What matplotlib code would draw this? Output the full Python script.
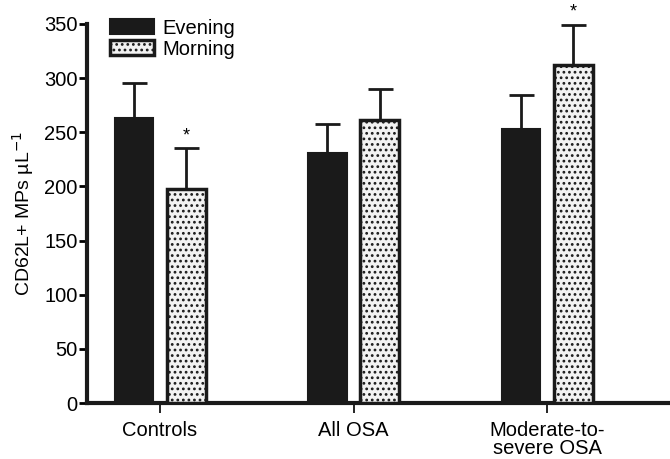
import matplotlib.pyplot as plt
import numpy as np

groups = ['Controls', 'All OSA', 'Moderate-to-\nsevere OSA']
evening = [263, 231, 253]
evening_err = [32, 27, 31]
morning = [198, 261, 312]
morning_err = [37, 29, 37]
star_morning = [True, False, True]

plt.rcParams['font.family'] = ['Liberation Sans Narrow', 'Liberation Sans', 'DejaVu Sans']
fig = plt.figure(figsize=(6.7, 4.59), dpi=100)
ax = fig.add_axes([0.13, 0.122, 0.867, 0.826])

x = np.arange(len(groups))
w = 0.2
off = 0.135
ax.bar(x - off, evening, w, color='#1a1a1a', edgecolor='#1a1a1a', linewidth=1.5,
       yerr=[np.zeros(3), evening_err], capsize=9,
       error_kw=dict(elinewidth=2, capthick=2, ecolor='#1a1a1a'), label='Evening', zorder=3)
plt.rcParams['hatch.color'] = '#999999'
plt.rcParams['hatch.linewidth'] = 1.2
ax.bar(x + off, morning, w, color='#f2f2f2', edgecolor='#1a1a1a', linewidth=2.5, hatch='...',
       yerr=[np.zeros(3), morning_err], capsize=9,
       error_kw=dict(elinewidth=2, capthick=2, ecolor='#1a1a1a'), label='Morning', zorder=3)

for i in range(len(groups)):
    if star_morning[i]:
        ax.text(x[i] + off, morning[i] + morning_err[i] + 4, '*', ha='center', va='bottom', fontsize=13)

ax.set_xlim(-0.377, 2.625)
ax.set_ylim(0, 350)
ax.set_yticks(range(0, 351, 50))
ax.set_xticks(x)
ax.set_xticklabels(groups, fontsize=14.5, linespacing=0.9)
ax.tick_params(axis='y', labelsize=14.5, width=2, length=6, pad=1)
ax.tick_params(axis='x', width=1.2, length=7, pad=6)
for s in ['top', 'right']:
    ax.spines[s].set_visible(False)
for s in ['left', 'bottom']:
    ax.spines[s].set_linewidth(3)
    ax.spines[s].set_color('#1a1a1a')
ax.set_ylabel('CD62L+ MPs µL$^{-1}$', fontsize=14, labelpad=6)
ax.legend(loc='upper left', bbox_to_anchor=(0.025, 1.035), frameon=False, fontsize=14.5,
          handlelength=2.2, handleheight=0.8, labelspacing=0.1, handletextpad=0.4, borderaxespad=0)
fig.savefig('out.png', dpi=100)
